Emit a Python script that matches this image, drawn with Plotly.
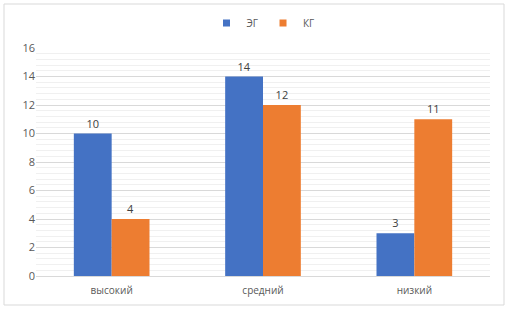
import plotly.graph_objects as go

categories = ["высокий", "средний", "низкий"]
eg_values = [10, 14, 3]
kg_values = [4, 12, 11]
series_names = ["ЭГ", "КГ"]
series_colors = ["#4472C4", "#ED7D31"]
y_ticks = [0, 2, 4, 6, 8, 10, 12, 14, 16]

font_family = "Open Sans, Liberation Sans, sans-serif"

fig = go.Figure()
for name, vals, col in zip(series_names, [eg_values, kg_values], series_colors):
    fig.add_trace(go.Bar(
        x=categories, y=vals, name=name, showlegend=False, legendgroup=name,
        marker=dict(color=col, line=dict(width=0)),
        text=[str(v) for v in vals], textposition="outside",
        textfont=dict(size=11, color="#404040"), cliponaxis=False,
    ))
for name, col in zip(series_names, series_colors):
    fig.add_trace(go.Scatter(
        x=[None], y=[None], mode="markers", name=name, legendgroup=name,
        marker=dict(symbol="square", size=7, color=col),
    ))

L, R, T, B = 36, 18, 48, 34
W, H = 508, 310
pw, ph = W - L - R, H - T - B

fig.update_layout(
    width=W, height=H,
    margin=dict(l=L, r=R, t=T, b=B, autoexpand=False),
    paper_bgcolor="white", plot_bgcolor="white",
    font=dict(family=font_family, size=10, color="#595959"),
    barmode="group", bargap=0.5, bargroupgap=0,
    legend=dict(orientation="h", x=0.5, xanchor="center", y=(H - B - 23) / ph,
                yanchor="middle", font=dict(size=10, color="#595959"),
                itemwidth=30, traceorder="normal", tracegroupgap=0),
    xaxis=dict(showline=True, linecolor="#d9d9d9", linewidth=1,
               tickfont=dict(size=10, color="#595959"), ticks="", ticklabelstandoff=5),
    yaxis=dict(range=[0, 16], tickvals=y_ticks, showgrid=True, gridcolor="#d9d9d9",
               gridwidth=1, zeroline=False, showline=False, ticks="",
               tickfont=dict(size=11, color="#595959"),
               minor=dict(dtick=0.4, tick0=0, showgrid=True, gridcolor="#f0f0f0", gridwidth=1)),
    shapes=[dict(type="rect", xref="paper", yref="paper",
                 x0=(4 - L) / pw, x1=(504 - L) / pw,
                 y0=(H - B - 305) / ph, y1=(H - B - 4) / ph,
                 line=dict(color="#d9d9d9", width=1), fillcolor="rgba(0,0,0,0)",
                 layer="below")],
)

fig.write_html("out.html", config={"displayModeBar": False},
               post_script="document.body.style.margin='0';document.body.style.overflow='hidden';")
